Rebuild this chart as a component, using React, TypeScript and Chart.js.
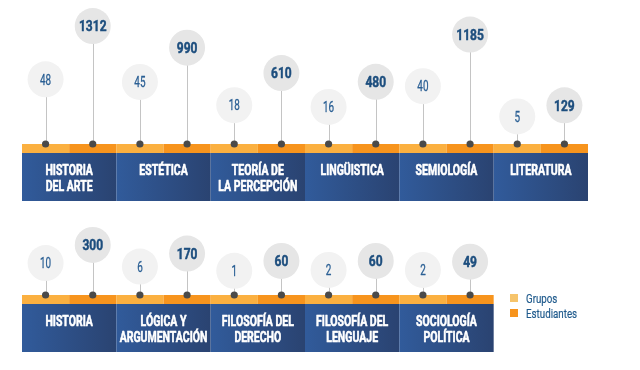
import React, { useEffect, useRef } from 'react';
import { Chart, registerables } from 'chart.js';
Chart.register(...registerables);

// ---- data ----
const row1Categories = [["HISTORIA", "DEL ARTE"], ["ESTÉTICA"], ["TEORÍA DE", "LA PERCEPCIÓN"], ["LINGÜISTICA"], ["SEMIOLOGÍA"], ["LITERATURA"]];
const row1Grupos = [48, 45, 18, 16, 40, 5];
const row1Estudiantes = [1312, 990, 610, 480, 1185, 129];

const row2Categories = [["HISTORIA"], ["LÓGICA Y", "ARGUMENTACIÓN"], ["FILOSOFÍA DEL", "DERECHO"], ["FILOSOFÍA DEL", "LENGUAJE"], ["SOCIOLOGÍA", "POLÍTICA"]];
const row2Grupos = [10, 6, 1, 2, 2];
const row2Estudiantes = [300, 170, 60, 60, 49];

const seriesNames = ["Grupos", "Estudiantes"];

// ---- styles ----
const FONT = "Roboto, 'DejaVu Sans', sans-serif";
const COLS_PER_ROW = 6;
const STRIP_LIGHT = '#FBB040';
const STRIP_DARK = '#F7941D';
const LEGEND_COLORS = ['#F6C46B', '#F7941D'];
const CIRCLE_COLORS = ['#F2F2F2', '#E6E6E6'];
const VALUE_COLORS = ['#2A5F94', '#1D4E7E'];

function condensedText(ctx: CanvasRenderingContext2D, text: string, x: number, y: number, font: string, sx: number, align: CanvasTextAlign = 'center', stroke = 0) {
  ctx.save();
  ctx.font = font;
  ctx.textAlign = align;
  ctx.textBaseline = 'alphabetic';
  ctx.translate(x, y);
  ctx.scale(sx, 1);
  ctx.fillText(text, 0, 0);
  if (stroke > 0) {
    ctx.strokeStyle = ctx.fillStyle as string;
    ctx.lineWidth = stroke;
    ctx.lineJoin = 'round';
    ctx.strokeText(text, 0, 0);
  }
  ctx.restore();
}

function makePlugin(categories: string[][], showLegend: boolean) {
  return {
    id: 'infographic',
    beforeDatasetsDraw(chart: any) {
      const ctx = chart.ctx as CanvasRenderingContext2D;
      const xs = chart.scales.x;
      const bottom = chart.chartArea.bottom;
      ctx.save();
      categories.forEach((_, i) => {
        const x0 = xs.getPixelForValue(i);
        const xm = xs.getPixelForValue(i + 0.5);
        const x1 = xs.getPixelForValue(i + 1);
        ctx.fillStyle = STRIP_LIGHT;
        ctx.fillRect(x0, bottom, xm - x0, 9);
        ctx.fillStyle = STRIP_DARK;
        ctx.fillRect(xm, bottom, x1 - xm, 9);
        const g = ctx.createLinearGradient(x0, 0, x1, 0);
        g.addColorStop(0, '#315B9B');
        g.addColorStop(1, '#2A4371');
        ctx.fillStyle = g;
        ctx.fillRect(x0, bottom + 9, x1 - x0, 48);
      });
      // stems and dots
      chart.data.datasets.forEach((ds: any, di: number) => {
        const meta = chart.getDatasetMeta(di);
        meta.data.forEach((pt: any) => {
          ctx.strokeStyle = '#C4C4C4';
          ctx.lineWidth = 1;
          ctx.beginPath();
          ctx.moveTo(Math.round(pt.x) + 0.5, pt.y);
          ctx.lineTo(Math.round(pt.x) + 0.5, bottom);
          ctx.stroke();
          ctx.fillStyle = '#4A4A4A';
          ctx.beginPath();
          ctx.arc(pt.x, bottom, 3.6, 0, Math.PI * 2);
          ctx.fill();
        });
      });
      ctx.restore();
    },
    afterDatasetsDraw(chart: any) {
      const ctx = chart.ctx as CanvasRenderingContext2D;
      const xs = chart.scales.x;
      const bottom = chart.chartArea.bottom;
      ctx.save();
      chart.data.datasets.forEach((ds: any, di: number) => {
        const meta = chart.getDatasetMeta(di);
        meta.data.forEach((pt: any, j: number) => {
          ctx.fillStyle = VALUE_COLORS[di];
          const v = ds.data[j].y;
          if (di === 0) condensedText(ctx, String(v), pt.x, pt.y + 5.2, `15px ${FONT}`, 0.66, 'center', 0.3);
          else condensedText(ctx, String(v), pt.x, pt.y + 5.3, `bold 15px ${FONT}`, 0.8, 'center', 0.5);
        });
      });
      ctx.fillStyle = '#FFFFFF';
      categories.forEach((lines, i) => {
        const xc = xs.getPixelForValue(i + 0.5);
        lines.forEach((ln, k) => {
          condensedText(ctx, ln, xc, bottom + 31 + k * 16, `bold 15px ${FONT}`, 0.7, 'center', 0.6);
        });
      });
      if (showLegend) {
        const lx = xs.getPixelForValue(COLS_PER_ROW) - 78;
        seriesNames.forEach((name, k) => {
          const y = bottom - 1 + k * 15;
          ctx.fillStyle = LEGEND_COLORS[k];
          ctx.fillRect(lx, y, 8, 8);
          ctx.fillStyle = '#1F5A8C';
          condensedText(ctx, name, lx + 16, y + 8.5, `13px ${FONT}`, 0.75, 'left', 0.2);
        });
      }
      ctx.restore();
    },
  };
}

function makeConfig(categories: string[][], grupos: number[], estudiantes: number[], padBottom: number, showLegend: boolean): any {
  return {
    type: 'scatter',
    data: {
      datasets: [
        {
          label: seriesNames[0],
          data: grupos.map((v, i) => ({ x: i + 0.25, y: v })),
          yAxisID: 'yG',
          pointRadius: 18,
          pointHoverRadius: 18,
          pointBackgroundColor: CIRCLE_COLORS[0],
          pointBorderWidth: 0,
          clip: false,
        },
        {
          label: seriesNames[1],
          data: estudiantes.map((v, i) => ({ x: i + 0.75, y: v })),
          yAxisID: 'yE',
          pointRadius: 18,
          pointHoverRadius: 18,
          pointBackgroundColor: CIRCLE_COLORS[1],
          pointBorderWidth: 0,
          clip: false,
        },
      ],
    },
    options: {
      responsive: false,
      animation: false,
      events: [],
      layout: { autoPadding: false, padding: { left: 22, right: 52, top: 0, bottom: padBottom } },
      plugins: { legend: { display: false }, tooltip: { enabled: false } },
      scales: {
        x: { type: 'linear', min: 0, max: COLS_PER_ROW, display: false },
        yG: { type: 'linear', min: -27, max: 140, display: false },
        yE: { type: 'linear', min: -448, max: 1701, display: false },
      },
    },
    plugins: [makePlugin(categories, showLegend)],
  };
}

export default function App() {
  const ref1 = useRef<HTMLCanvasElement>(null);
  const ref2 = useRef<HTMLCanvasElement>(null);
  useEffect(() => {
    const c1 = new Chart(ref1.current!, makeConfig(row1Categories, row1Grupos, row1Estudiantes, 66, false));
    const c2 = new Chart(ref2.current!, makeConfig(row2Categories, row2Grupos, row2Estudiantes, 75, true));
    return () => { c1.destroy(); c2.destroy(); };
  }, []);
  return (
    <div style={{ position: 'fixed', left: 0, top: 0, width: 640, height: 370, background: '#fff' }}>
      <canvas ref={ref1} width={640} height={210} style={{ position: 'absolute', left: 0, top: 0 }} />
      <canvas ref={ref2} width={640} height={219} style={{ position: 'absolute', left: 0, top: 151 }} />
    </div>
  );
}
